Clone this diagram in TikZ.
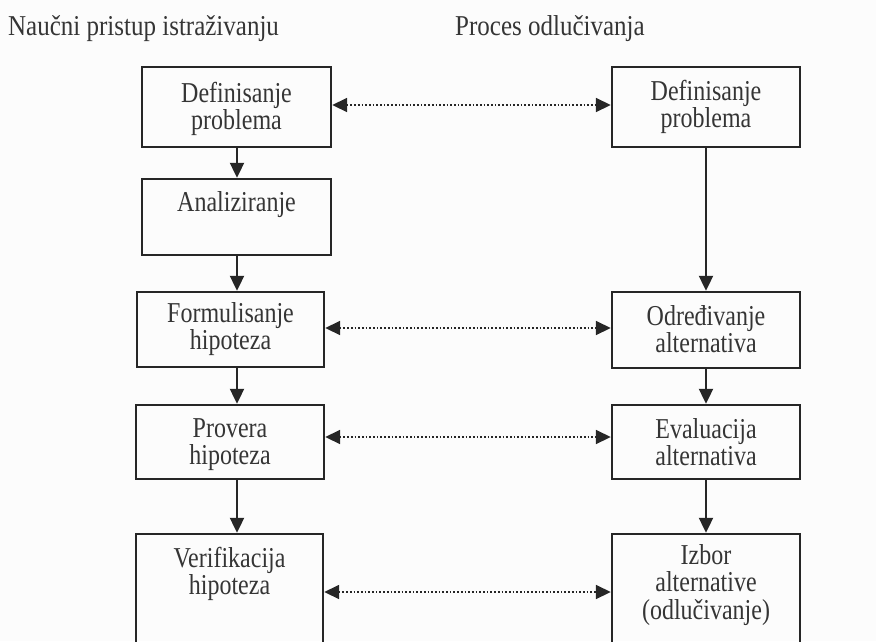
\documentclass[tikz,border=0pt]{standalone}
\usepackage{fontspec}
\usepackage{graphicx}
\setmainfont{Liberation Serif}
\usetikzlibrary{arrows.meta}
\definecolor{ink}{HTML}{262626}
\definecolor{txt}{HTML}{353535}
\newcommand{\stk}[1]{\scalebox{1}[1.2]{\fontsize{24}{21}\selectfont\begin{tabular}[t]{@{}c@{}}#1\end{tabular}}}
\newcommand{\ttltext}[1]{\scalebox{1}[1.15]{\fontsize{25}{27}\selectfont #1}}
\begin{document}
\begin{tikzpicture}[x=1pt,y=-1pt,
 box/.style={draw=ink, line width=2.4pt, inner sep=0pt},
 lbl/.style={anchor=base, inner sep=0pt, text=txt},
 ttl/.style={anchor=base west, inner sep=0pt, text=txt},
 flow/.style={draw=ink, line width=2.1pt, -{Triangle[length=15pt,width=14pt]}},
 link/.style={draw=ink, line width=1.7pt, dotted, {Triangle[length=15pt,width=14pt]}-{Triangle[length=15pt,width=14pt]}},
]
\clip (0,0) rectangle (876,641);
\fill[white!99!black] (0,0) rectangle (876,641);

% titles
\node[ttl] (t1) at (8,35) {\ttltext{Naučni pristup istraživanju}};
\node[ttl] (t2) at (455,35) {\ttltext{Proces odlučivanja}};

% left column boxes
\node[box, minimum width=189pt, minimum height=80pt] (L1) at (236.5,107) {};
\node[box, minimum width=189pt, minimum height=76pt] (L2) at (236.5,217) {};
\node[box, minimum width=187pt, minimum height=75pt] (L3) at (230.5,329.5) {};
\node[box, minimum width=188pt, minimum height=74pt] (L4) at (230,442) {};
\node[box, minimum width=187pt, minimum height=166pt] (L5) at (229.5,617) {};

% right column boxes
\node[box, minimum width=188pt, minimum height=80pt] (R1) at (706,107) {};
\node[box, minimum width=188pt, minimum height=76pt] (R2) at (706,330) {};
\node[box, minimum width=188pt, minimum height=74pt] (R3) at (706,442) {};
\node[box, minimum width=188pt, minimum height=166pt] (R4) at (706,617) {};

% labels (first baseline positions)
\node[lbl] (l1) at (236.5,102) {\stk{Definisanje\\problema}};
\node[lbl] (l2) at (236.5,211) {\stk{Analiziranje}};
\node[lbl] (l3) at (230.5,322) {\stk{Formulisanje\\hipoteza}};
\node[lbl] (l4) at (230,437) {\stk{Provera\\hipoteza}};
\node[lbl] (l5) at (229.5,567) {\stk{Verifikacija\\hipoteza}};
\node[lbl] (r1) at (706,100) {\stk{Definisanje\\problema}};
\node[lbl] (r2) at (706,325) {\stk{Određivanje\\alternativa}};
\node[lbl] (r3) at (706,438) {\stk{Evaluacija\\alternativa}};
\node[lbl] (r4) at (706,564) {\stk{Izbor\\alternative\\(odlučivanje)}};

% vertical flow arrows
\coordinate (xl) at (237,0);
\coordinate (xr) at (706,0);
\draw[flow] (L1.south -| xl) -- (L2.north -| xl);
\draw[flow] (L2.south -| xl) -- (L3.north -| xl);
\draw[flow] (L3.south -| xl) -- (L4.north -| xl);
\draw[flow] (L4.south -| xl) -- (L5.north -| xl);
\draw[flow] (R1.south -| xr) -- (R2.north -| xr);
\draw[flow] (R2.south -| xr) -- (R3.north -| xr);
\draw[flow] (R3.south -| xr) -- (R4.north -| xr);

% dotted correspondences
\coordinate (h1) at (0,105);
\coordinate (h2) at (0,328);
\coordinate (h3) at (0,437);
\coordinate (h4) at (0,592);
\draw[link] (L1.east |- h1) -- (R1.west |- h1);
\draw[link] (L3.east |- h2) -- (R2.west |- h2);
\draw[link] (L4.east |- h3) -- (R3.west |- h3);
\draw[link] (L5.east |- h4) -- (R4.west |- h4);
\end{tikzpicture}
\end{document}
